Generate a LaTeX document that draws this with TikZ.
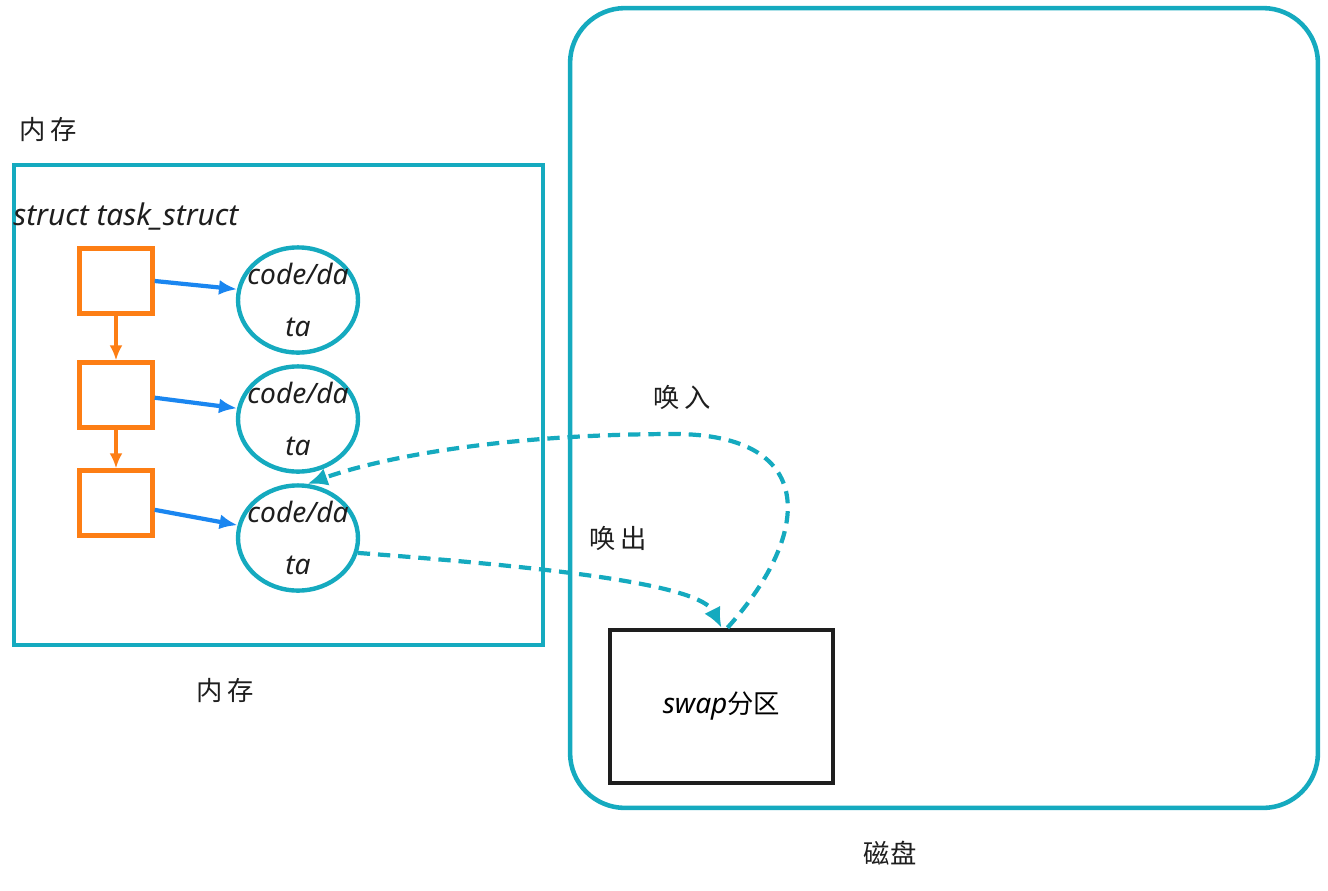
\documentclass[tikz,border=0pt]{standalone}
\usepackage{fontspec}
\setmainfont{Noto Sans}
\newfontfamily\cjk{Noto Sans CJK SC}
\usetikzlibrary{shapes.geometric}
\usetikzlibrary{arrows.meta}
\usetikzlibrary{positioning}
\definecolor{boxteal}{HTML}{15AABF}
\definecolor{taskorange}{HTML}{FD7E14}
\definecolor{ptrblue}{HTML}{1A86F0}
\definecolor{inkblack}{HTML}{1E1E1E}
\newcommand{\segtext}{\makebox[0pt][c]{code/da}\\[12pt]\makebox[0pt][c]{ta}}
\tikzset{
  frame/.style={rectangle, draw=boxteal, line width=2.6pt},
  task/.style={rectangle, draw=taskorange, line width=2.5pt, minimum width=1.46cm, minimum height=1.3cm},
  segment/.style={ellipse, draw=boxteal, line width=2.5pt, minimum width=2.4cm, minimum height=2.02cm, inner sep=0pt, align=center, font=\itshape\fontsize{16}{18}\selectfont, text=inkblack},
  swapbox/.style={rectangle, draw=inkblack, line width=2.6pt, minimum width=4.46cm, minimum height=3.06cm},
  cnlabel/.style={font=\cjk\fontsize{15}{18}\selectfont, text=inkblack},
  next/.style={draw=taskorange, line width=2pt, -{Latex[length=3mm, width=2.6mm]}},
  pointer/.style={draw=ptrblue, line width=2.4pt, -{Latex[length=3.6mm, width=3mm]}},
  swapline/.style={draw=boxteal, line width=2.4pt, dash pattern=on 7pt off 4.5pt, -{Latex[length=4mm, width=3.6mm]}}
  }

\begin{document}
\begin{tikzpicture}[x=0.02cm, y=-0.02cm]
	\useasboundingbox (0,0) rectangle (1328,890);

	% Frames
	\node[frame, minimum width=10.58cm, minimum height=9.6cm] (mem) at (278.5,405) {};
	\node[frame, rounded corners=1.1cm, minimum width=14.96cm, minimum height=16cm] (disk) at (944,408) {};
	\node[swapbox] (swap) at (721.5,706.5) {{\itshape\fontsize{16}{18}\selectfont swap}{\cjk\fontsize{15}{18}\selectfont 分区}};

	% Labels
	\node[cnlabel] (memtop) at (48,130) {内\,存};
	\node[cnlabel] (membottom) at (225,690) {内\,存};
	\node[cnlabel] (disklabel) at (890,853) {磁盘};
	\node[cnlabel] (inlabel) at (682,397) {唤\,入};
	\node[cnlabel] (outlabel) at (618,538) {唤\,出};
	\node[anchor=west, inner sep=0pt, font=\itshape\fontsize{17}{20}\selectfont, text=inkblack] (structname) at (13,217) {struct task\_struct};

	% Nodes
	\node[task] (task1) at (116,281) {};
	\node[task] (task2) at (116,395) {};
	\node[task] (task3) at (116,503) {};
	\node[segment] (seg1) at (298,300) {\segtext};
	\node[segment] (seg2) at (298,419) {\segtext};
	\node[segment] (seg3) at (298,538) {\segtext};

	% Arrows
	\draw[next] (task1) -- (task2);
	\draw[next] (task2) -- (task3);
	\draw[pointer] (task1.east) -- (seg1.170);
	\draw[pointer] (task2.-4) -- (seg2.170);
	\draw[pointer] (task3.-10) -- (seg3.168);
	\draw[swapline] (seg3.-14) .. controls (560,568) and (700,585) .. (swap.north);
	\draw[swapline] ([xshift=0.12cm]swap.north) .. controls (815,530) and (815,435) .. (676,434)
		.. controls (500,434) and (380,458) .. (seg3.80);
\end{tikzpicture}
\end{document}
